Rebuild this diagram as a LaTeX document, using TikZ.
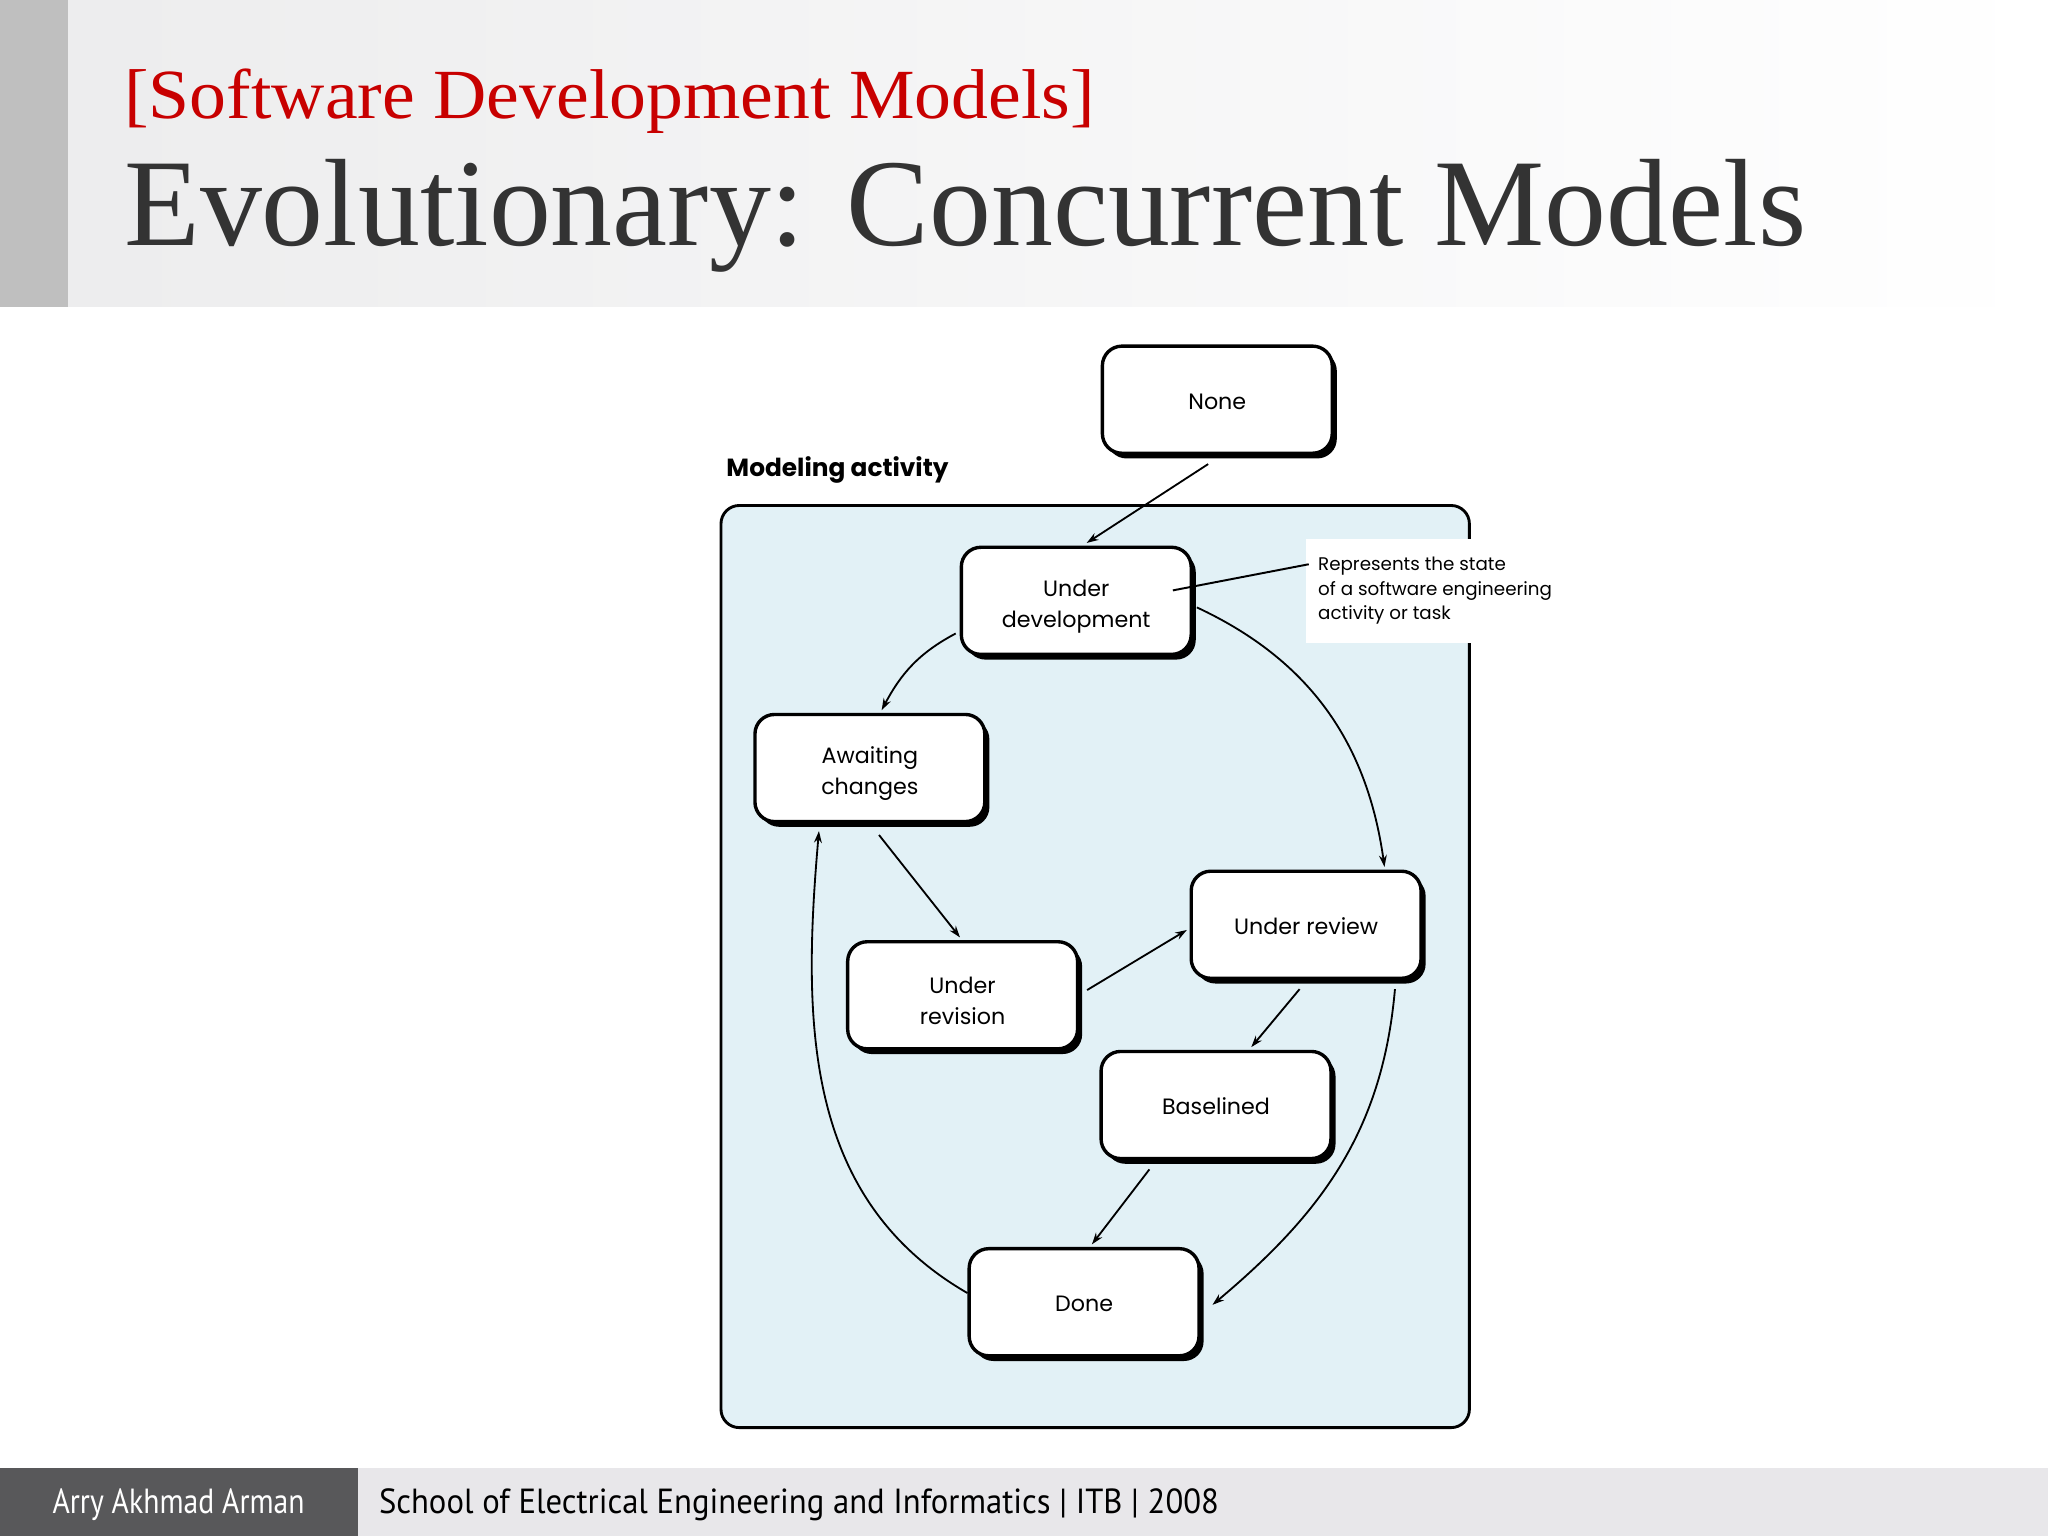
\documentclass[tikz,border=0pt]{standalone}
\usepackage{fontspec}
\setmainfont{Liberation Serif}
\newfontfamily\geo{Poppins}
\newfontfamily\tah{PT Sans}
\usetikzlibrary{shadows,arrows.meta,calc}
\definecolor{hdrred}{RGB}{200,0,0}
\definecolor{titlegray}{RGB}{51,51,51}
\definecolor{hdrgray}{RGB}{236,236,237}
\definecolor{leftbar}{RGB}{191,191,191}
\definecolor{footdark}{RGB}{88,88,90}
\definecolor{footlight}{RGB}{232,231,234}
\definecolor{diagblue}{RGB}{226,241,246}
\newcommand{\uplift}{\rule{0pt}{21.5pt}}
\begin{document}
\begin{tikzpicture}[x=1pt,y=-1pt,
  state/.style={draw=black, line width=2.6pt, fill=white, rounded corners=15pt,
    minimum width=176pt, minimum height=82pt, align=center, inner sep=0pt,
    font=\geo\fontsize{17}{24}\selectfont,
    drop shadow={shadow xshift=3.5pt, shadow yshift=-4pt, fill=black, opacity=1}},
  arr/.style={line width=1.4pt, -{Stealth[length=9pt,width=6pt]}},
  plain/.style={inner sep=0pt, anchor=base west}
]
\useasboundingbox (0,0) rectangle (1568,1176);
\fill[white] (0,0) rectangle (1568,1176);
% header
\shade[left color=hdrgray, right color=white] (0,0) rectangle (1568,235);
\fill[leftbar] (0,0) rectangle (52,235);
\node[plain, text=hdrred] (sub) at (95,91) {\resizebox{743pt}{38pt}{[Software Development Models]}};
\node[plain, text=titlegray] (title) at (95,188) {\resizebox{1287pt}{66pt}{Evolutionary: Concurrent Models}};
% footer
\fill[footlight] (274,1124) rectangle (1568,1176);
\fill[footdark] (0,1124) rectangle (274,1176);
\node[plain, text=white] (auth) at (40,1159) {\resizebox{193pt}{19pt}{\tah Arry Akhmad Arman}};
\node[plain, text=black] (school) at (290,1159) {\resizebox{643pt}{19pt}{\tah School of Electrical Engineering and Informatics \smash{|} ITB \smash{|} 2008}};
% diagram frame
\draw[line width=2.2pt, fill=diagblue, rounded corners=14pt] (552,387) rectangle (1125,1093);
\node[plain, font=\geo\bfseries\fontsize{19}{22}\selectfont] (modlabel) at (556,365) {Modeling activity};
\fill[white] (1000,413) rectangle (1190,492);
\node[inner sep=0pt, anchor=north west, align=left, font=\geo\fontsize{14}{19}\selectfont] (annot) at (1009,426)
  {Represents the state\\of a software engineering\\activity or task};
% states
\node[state] (None) at (932,306) {\rule{0pt}{15pt}None};
\node[state] (UD) at (824,460) {\uplift Under\\development};
\node[state] (AC) at (666,588) {\uplift Awaiting\\changes};
\node[state] (UR) at (1000,708) {\rule{0pt}{15pt}Under review};
\node[state] (URV) at (737,762) {\uplift Under\\revision};
\node[state] (BL) at (931,846) {\rule{0pt}{15pt}Baselined};
\node[state] (Done) at (830,997) {\rule{0pt}{15pt}Done};
% connectors
\draw[arr] ($(None.south)+(-7,7)$) -- ($(UD.north)+(8,-2)$);
\draw[arr] ($(UD.west)+(-3,25)$) to[out=208, in=62] ($(AC.north)+(9,-2)$);
\draw[arr] ($(UD.east)+(3,5)$) to[out=-25, in=98] ($(UR.north)+(60,-2)$);
\draw[arr] ($(AC.south)+(7,9)$) -- ($(URV.north)+(-2,-2)$);
\draw[arr] ($(URV.east)+(6,-4)$) -- ($(UR.west)+(-2,4)$);
\draw[arr] ($(UR.south)+(-5,7)$) -- ($(BL.north)+(27,-2)$);
\draw[arr] ($(BL.south)+(-51,7)$) -- ($(Done.north)+(6,-2)$);
\draw[arr] ($(UR.south)+(68,7)$) to[out=-95, in=40] ($(Done.east)+(9,2)$);
\draw[arr] ($(Done.west)+(0,-7)$) to[out=150, in=-95] ($(AC.south)+(-39,6)$);
% annotation pointer
\coordinate (annotfoot) at (898,452);
\draw[line width=1.5pt] (annotfoot) -- ($(annot.north west)+(-7,6)$);
\end{tikzpicture}
\end{document}
